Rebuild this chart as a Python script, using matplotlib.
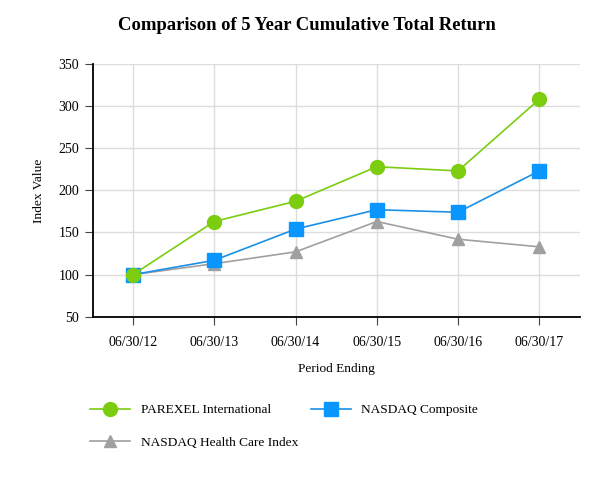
import matplotlib
matplotlib.use("Agg")
import matplotlib.pyplot as plt
from matplotlib.lines import Line2D

plt.rcParams['font.family'] = ['Liberation Serif', 'DejaVu Serif']

periodes = ["06/30/12", "06/30/13", "06/30/14", "06/30/15", "06/30/16", "06/30/17"]
parexel = [100, 163, 187, 228, 223, 308]
nasdaq_comp = [100, 117, 154, 177, 174, 223]
nasdaq_sante = [100, 113, 127, 163, 142, 133]

vert = '#7ccc10'
bleu = '#1a90e8'
bleu_marq = '#0a96ff'
gris = '#a0a0a0'

fig = plt.figure(figsize=(6.13, 4.8), dpi=100)
ax = fig.add_axes([0.152, 0.340, 0.794, 0.527])

x = list(range(len(periodes)))
ax.plot(x, nasdaq_sante, color=gris, lw=1.2, marker='^', ms=9,
        markerfacecolor=gris, markeredgecolor=gris, zorder=3)
ax.plot(x, nasdaq_comp, color=bleu, lw=1.2, marker='s', ms=10,
        markerfacecolor=bleu_marq, markeredgecolor=bleu_marq, zorder=4)
ax.plot(x, parexel, color=vert, lw=1.2, marker='o', ms=10,
        markerfacecolor=vert, markeredgecolor=vert, zorder=5)

ax.set_xlim(-0.49, 5.5)
ax.set_ylim(50, 350)
ax.set_yticks(range(50, 351, 50))
ax.set_xticks(x)
ax.set_xticklabels(periodes)
ax.grid(True, color='#dddddd', lw=1)
ax.set_axisbelow(True)
for s in ['top', 'right']:
    ax.spines[s].set_visible(False)
for s in ['left', 'bottom']:
    ax.spines[s].set_color('black')
    ax.spines[s].set_linewidth(1.3)
ax.tick_params(axis='both', labelsize=10, length=6, color='#444444', pad=8)
ax.tick_params(axis='y', pad=4)

ax.set_ylabel("Index Value", fontsize=9.6, labelpad=10)
ax.set_xlabel("Period Ending", fontsize=9.6, labelpad=10)

fig.text(0.5, 0.947, "Comparison of 5 Year Cumulative Total Return",
         ha='center', va='center', fontsize=13.4, fontweight='bold')

poignees = [
    Line2D([], [], color=vert, lw=1.2, marker='o', ms=10, markerfacecolor=vert, markeredgecolor=vert),
    Line2D([], [], color=bleu, lw=1.2, marker='s', ms=10, markerfacecolor=bleu_marq, markeredgecolor=bleu_marq),
    Line2D([], [], color=gris, lw=1.2, marker='^', ms=9, markerfacecolor=gris, markeredgecolor=gris),
]
noms = ["PAREXEL International", "NASDAQ Composite", "NASDAQ Health Care Index"]
fig.legend([poignees[0], poignees[2], poignees[1]], [noms[0], noms[2], noms[1]],
           ncol=2, loc='upper left', bbox_to_anchor=(0.128, 0.183),
           frameon=False, fontsize=9.6, handlelength=3.0, handletextpad=0.8,
           columnspacing=0.9, labelspacing=1.5)

fig.savefig("out.png", dpi=100)
